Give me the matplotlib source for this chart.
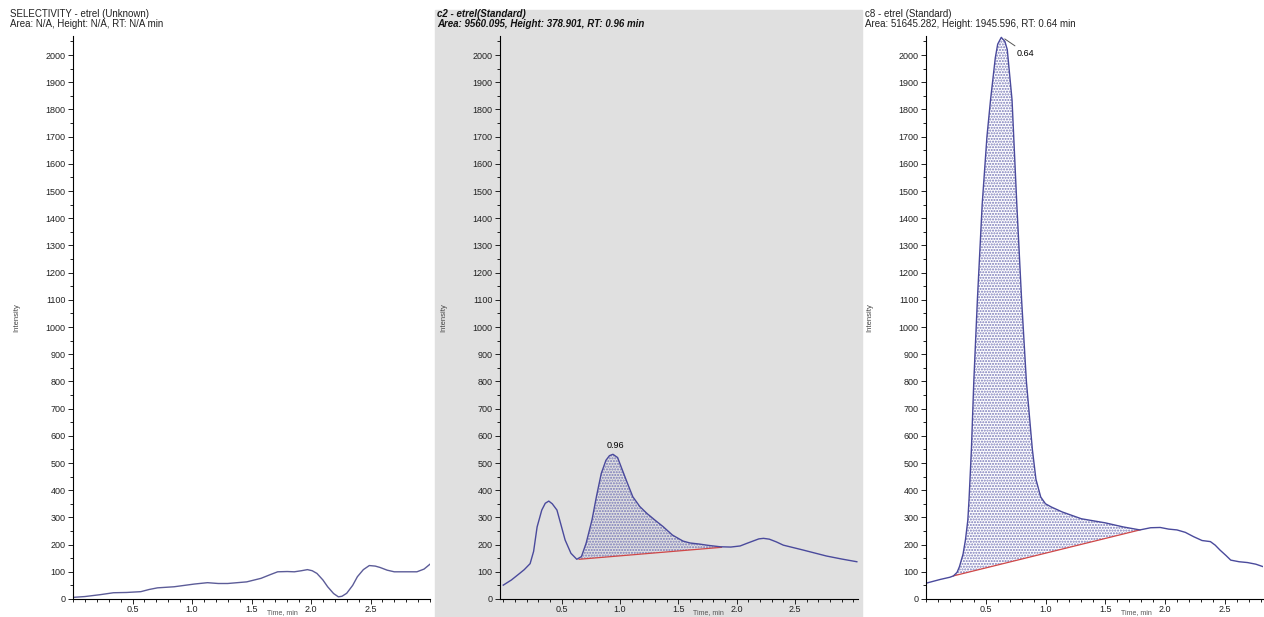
import matplotlib.pyplot as plt
from matplotlib.patches import Rectangle
from matplotlib.ticker import MultipleLocator

plt.rcParams['font.family'] = ['Liberation Sans', 'DejaVu Sans']

# panel 1: SELECTIVITY trace (no integrated peak)
sel_t = [0.0, 0.10, 0.23, 0.34, 0.45, 0.57, 0.64, 0.71, 0.85, 1.02, 1.13, 1.22, 1.30,
         1.46, 1.58, 1.66, 1.72, 1.80, 1.86, 1.92, 1.97, 2.01, 2.05, 2.10, 2.14, 2.19,
         2.23, 2.26, 2.30, 2.35, 2.39, 2.44, 2.49, 2.54, 2.58, 2.64, 2.70, 2.80, 2.89,
         2.95, 3.0]
sel_v = [6, 9, 16, 23, 24, 27, 35, 41, 45, 55, 60, 57, 57,
         63, 76, 90, 100, 101, 100, 104, 108, 104, 94, 70, 45, 20,
         8, 10, 21, 50, 82, 108, 123, 121, 116, 106, 100, 100, 100,
         110, 128]

# panel 2: c2 - etrel
c2_t = [0.0, 0.07, 0.14, 0.18, 0.23, 0.26, 0.29, 0.33, 0.36, 0.39, 0.42, 0.46, 0.49,
        0.53, 0.58, 0.63, 0.67, 0.71, 0.76, 0.80, 0.84, 0.88, 0.91, 0.94, 0.98, 1.01,
        1.06, 1.11, 1.17, 1.23, 1.30, 1.37, 1.45, 1.54, 1.60, 1.68, 1.76, 1.86, 1.95,
        2.03, 2.09, 2.14, 2.19, 2.23, 2.28, 2.34, 2.40, 2.57, 2.77, 2.90, 3.03]
c2_v = [51, 70, 94, 108, 130, 175, 265, 327, 352, 360, 350, 327, 280,
        217, 168, 146, 156, 205, 290, 380, 462, 510, 527, 532, 520, 486,
        430, 376, 340, 315, 290, 266, 235, 213, 206, 202, 197, 192, 191,
        195, 205, 213, 221, 223, 220, 210, 198, 180, 158, 147, 137]
c2_peak = (0.65, 1.87)
c2_base = (146, 190)
c2_rt, c2_top = 0.96, 532

# panel 3: c8 - etrel
c8_t = [0.0, 0.12, 0.20, 0.23, 0.26, 0.28, 0.31, 0.33, 0.35, 0.36, 0.38, 0.40, 0.43,
        0.47, 0.51, 0.54, 0.58, 0.60, 0.63, 0.66, 0.68, 0.72, 0.76, 0.80, 0.84, 0.89,
        0.92, 0.96, 1.00, 1.05, 1.14, 1.30, 1.50, 1.65, 1.79, 1.88, 1.96, 2.03, 2.10,
        2.17, 2.24, 2.31, 2.38, 2.42, 2.46, 2.51, 2.55, 2.62, 2.69, 2.76, 2.82]
c8_v = [58, 72, 80, 85, 98, 119, 165, 217, 290, 365, 550, 800, 1100,
        1450, 1700, 1835, 1990, 2040, 2065, 2050, 2020, 1835, 1450, 1100, 800, 550,
        440, 375, 350, 338, 320, 295, 280, 265, 254, 262, 263, 257, 254,
        245, 229, 215, 211, 198, 180, 160, 143, 137, 134, 128, 119]
c8_peak = (0.23, 1.79)
c8_base = (85, 254)
c8_rt, c8_top = 0.64, 2065

titles = [
    ("SELECTIVITY - etrel (Unknown)", "Area: N/A, Height: N/A, RT: N/A min"),
    ("c2 - etrel(Standard)", "Area: 9560.095, Height: 378.901, RT: 0.96 min"),
    ("c8 - etrel (Standard)", "Area: 51645.282, Height: 1945.596, RT: 0.64 min"),
]

W, H = 1264, 617
fig = plt.figure(figsize=(W / 100, H / 100), dpi=100)
fig.add_artist(Rectangle((435 / W, 0), (862 - 435) / W, 607 / H,
                         transform=fig.transFigure, color='#e0e0e0', zorder=0))

line_col = '#4a4a9c'


def make_ax(x0, x1, xmin, xmax, bg):
    ax = fig.add_axes([x0 / W, (H - 599) / H, (x1 - x0) / W, (599 - 36) / H])
    ax.set_facecolor(bg)
    ax.set_xlim(xmin, xmax)
    ax.set_ylim(0, 2070)
    for s in ['top', 'right']:
        ax.spines[s].set_visible(False)
    for s in ['left', 'bottom']:
        ax.spines[s].set_linewidth(0.8)
    ax.xaxis.set_major_locator(MultipleLocator(0.5))
    ax.xaxis.set_minor_locator(MultipleLocator(0.1))
    ax.yaxis.set_major_locator(MultipleLocator(100))
    ax.yaxis.set_minor_locator(MultipleLocator(50))
    ax.tick_params(which='major', length=3.5, width=0.7, labelsize=6.5, pad=2,
                   colors='#222222')
    ax.tick_params(axis='x', which='major', pad=0.5)
    ax.tick_params(which='minor', length=2, width=0.6)
    ax.set_xticks([0.5, 1.0, 1.5, 2.0, 2.5])
    ax.set_xticklabels(['0.5', '1.0', '1.5', '2.0', '2.5'])
    # the title sits low, between the 1.5 and 2.0 labels, so it fits the frame
    ax.set_xlabel('Time, min', fontsize=5, color='#555555', va='bottom')
    ax.xaxis.set_label_coords((1.76 - xmin) / (xmax - xmin), -17 / 563)
    ax.set_ylabel('Intensity', fontsize=5.5, labelpad=18, color='#444444')
    return ax


def peak(ax, t, v, rng, base):
    t0, t1 = rng
    pts = [(a, b) for a, b in zip(t, v) if t0 <= a <= t1]
    xs = [t0] + [p[0] for p in pts] + [t1]
    ys = [base[0]] + [p[1] for p in pts] + [base[1]]
    bl = [base[0] + (base[1] - base[0]) * (x - t0) / (t1 - t0) for x in xs]
    ax.fill_between(xs, bl, ys, facecolor='none', edgecolor='#7878b8',
                    hatch='......', linewidth=0)
    ax.plot([t0, t1], base, color='#d04848', lw=0.9)


# panel 1
ax1 = make_ax(73, 430, 0, 3.0, 'white')
ax1.plot(sel_t, sel_v, color='#5c5c98', lw=1.0)

# panel 2
ax2 = make_ax(500, 858, -0.028, 3.04, '#e0e0e0')
peak(ax2, c2_t, c2_v, c2_peak, c2_base)
ax2.plot(c2_t, c2_v, color=line_col, lw=1.0)
ax2.annotate(f'{c2_rt:.2f}', (c2_rt, c2_top), xytext=(0, 3),
             textcoords='offset points', ha='center', va='bottom', fontsize=6.5)

# panel 3
ax3 = make_ax(926, 1263, 0, 2.82, 'white')
peak(ax3, c8_t, c8_v, c8_peak, c8_base)
ax3.plot(c8_t, c8_v, color=line_col, lw=1.0)
ax3.annotate(f'{c8_rt:.2f}', (c8_rt, c8_top), xytext=(0.76, 2007),
             ha='left', va='center', fontsize=6.5,
             arrowprops=dict(arrowstyle='-', color='#555555', lw=0.7,
                             shrinkA=0, shrinkB=2))

# titles
tx = [10, 437, 865]
for i, (a, b) in enumerate(titles):
    kw = dict(fontsize=7, va='center', ha='left', color='#222222')
    if i == 1:
        kw.update(fontweight='bold', fontstyle='italic', color='#111111')
    fig.text(tx[i] / W, 1 - 14 / H, a, **kw)
    fig.text(tx[i] / W, 1 - 24 / H, b, **kw)

fig.savefig('out.png', dpi=100)
